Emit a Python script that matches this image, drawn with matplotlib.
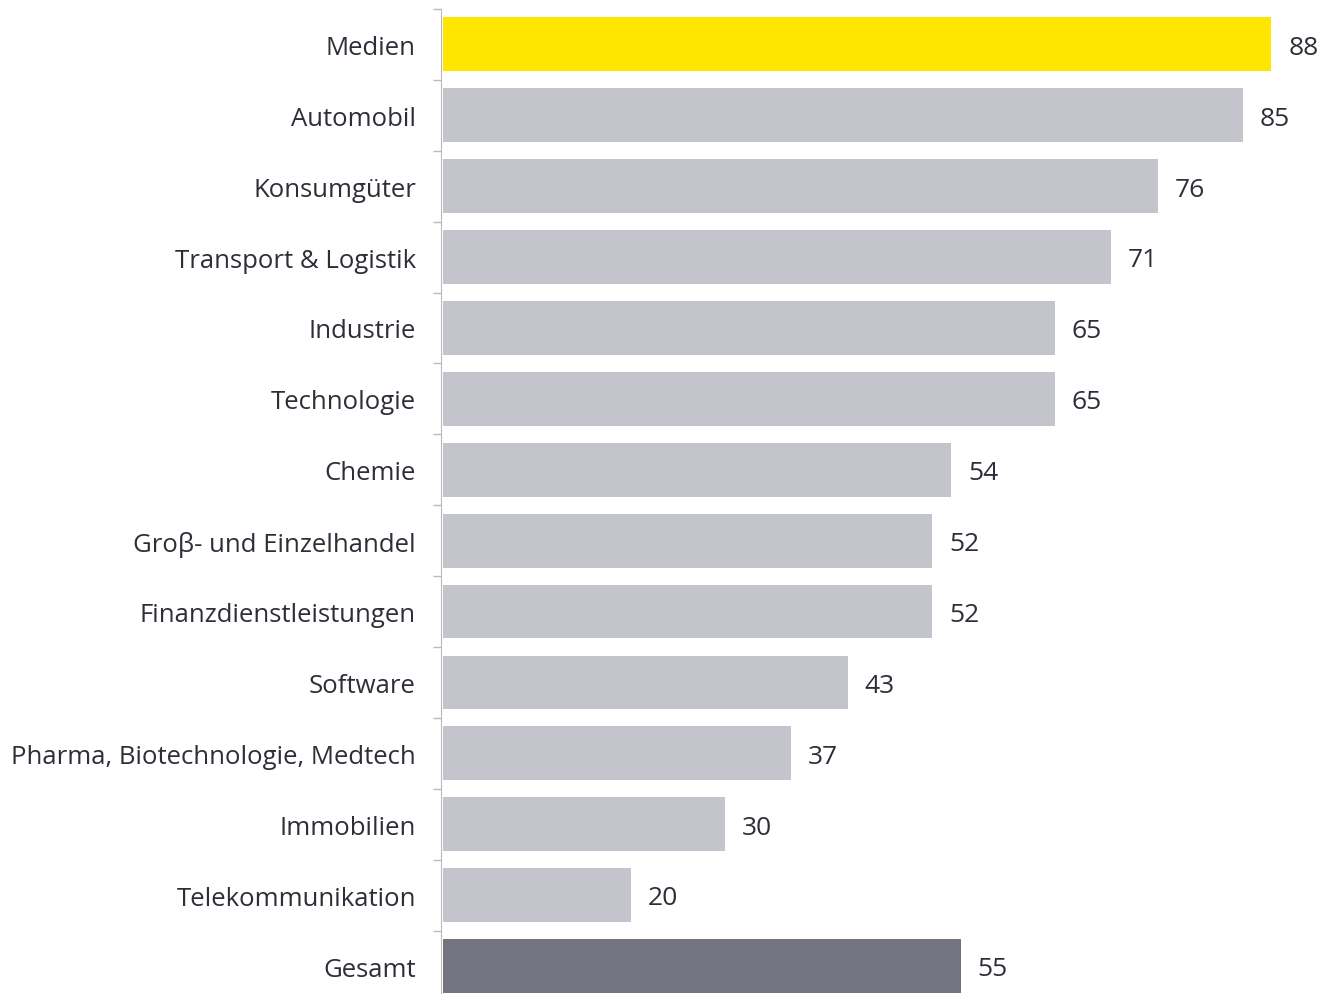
import numpy as np
import matplotlib.pyplot as plt

branchen = ["Medien", "Automobil", "Konsumgüter", "Transport & Logistik", "Industrie",
            "Technologie", "Chemie", "Groβ- und Einzelhandel", "Finanzdienstleistungen",
            "Software", "Pharma, Biotechnologie, Medtech", "Immobilien",
            "Telekommunikation", "Gesamt"]
werte = [88, 85, 76, 71, 65, 65, 54, 52, 52, 43, 37, 30, 20, 55]

gelb = "#FFE600"
grau = "#C4C4CD"
dunkel = "#747480"
farben = [gelb] + [grau] * (len(werte) - 2) + [dunkel]
textfarbe = "#2E2E38"

plt.rcParams["font.family"] = ["Open Sans", "DejaVu Sans"]
fig = plt.figure(figsize=(13.23, 9.95), dpi=100)
ax = fig.add_axes([0.3333, -0.0075, 0.6667, 0.9975])

y = np.arange(len(werte))
ax.barh(y, werte, left=0.2, height=0.76, color=farben)
for yi, w in zip(y, werte):
    ax.text(w + 2.0, yi + 0.04, str(w), va="center", ha="left", fontsize=19, color=textfarbe)

ax.set_ylim(len(werte) - 0.5, -0.5)
ax.set_xlim(0, 93.7)
ax.set_yticks(y)
ax.set_yticklabels(branchen, fontsize=18.5, color=textfarbe)
ax.tick_params(axis="y", which="major", length=0, pad=18)
ax.set_yticks(np.arange(-0.5, len(werte), 1), minor=True)
ax.tick_params(axis="y", which="minor", length=6, color="#BBBBBB", width=1)
ax.set_xticks([])
for s in ["top", "right", "bottom"]:
    ax.spines[s].set_visible(False)
ax.spines["left"].set_color("#BBBBBB")

fig.savefig("out.png", dpi=100)
